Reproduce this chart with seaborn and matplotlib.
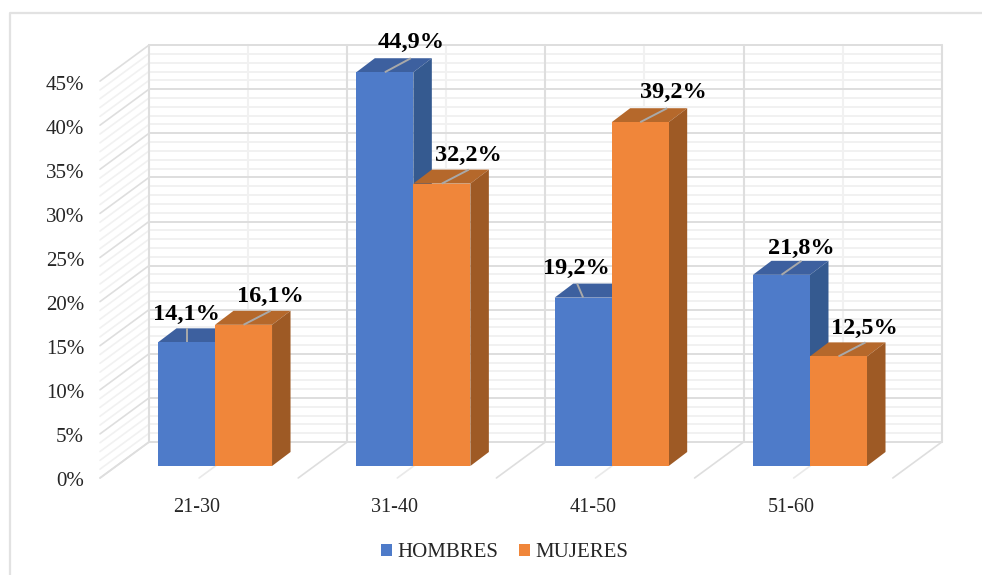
import matplotlib
matplotlib.use('Agg')
import matplotlib.pyplot as plt
from matplotlib.lines import Line2D
from matplotlib.patches import Polygon
import pandas as pd
import seaborn as sns

# Values
grupos = ['21-30', '31-40', '41-50', '51-60']
hombres = [14.1, 44.9, 19.2, 21.8]
mujeres = [16.1, 32.2, 39.2, 12.5]

W, H = 982, 575
sns.set_theme(style='white')
plt.rcParams['font.family'] = ['Liberation Serif', 'DejaVu Serif']

BLUE, ORANGE = '#4E7BC9', '#F0863A'
BLUE_TOP, BLUE_SIDE = '#3D609F', '#355A90'
ORANGE_TOP, ORANGE_SIDE = '#B5682B', '#9E5A25'
MAJOR, MINOR = '#DEDEDE', '#F1F1F1'
TXT = '#262626'

# label offsets from the top centre of each bar, in pixels
off_h = [(0, -28), (26, -30), (-7, -29), (20, -26)]
off_m = [(27, -28), (27, -28), (33, -30), (26, -28)]
lead_h = [0, 26, -6, 20]   # horizontal run of the grey leader lines


def axes_px(x0, x1, y_top, y_bottom):
    return [x0 / W, 1 - y_bottom / H, (x1 - x0) / W, (y_bottom - y_top) / H]


fig = plt.figure(figsize=(W / 100, H / 100), dpi=100, facecolor='white')

# outer frame, only left and top show in the picture
fig.add_artist(Line2D([9.5 / W, 9.5 / W, 1], [0, 1 - 12.5 / H, 1 - 12.5 / H],
                      color='#E2E2E2', lw=1.6))

# walls and floor in pixel coordinates
bg = fig.add_axes([0, 0, 1, 1], zorder=0)
bg.set_xlim(0, W)
bg.set_ylim(H, 0)
bg.axis('off')


def back_y(v):
    return 442 - 8.82 * v


def front_y(v):
    return 478 - 8.82 * v


for v in range(46):
    major = v % 5 == 0
    c = MAJOR if major else MINOR
    z = 2 if major else 1
    bg.plot([149, 942], [back_y(v), back_y(v)], color=c, lw=1.4, zorder=z)
    bg.plot([100, 149], [front_y(v), back_y(v)], color=c, lw=1.2, zorder=z)

for i in range(9):
    xb = 149 + i * 99.1
    xf = 100 + i * 99.1
    major = i % 2 == 0
    c = MAJOR if major else MINOR
    bg.plot([xb, xb], [back_y(45), back_y(0)], color=c, lw=1.5, zorder=2 if major else 1)
    bg.plot([xf, xb], [478, 442], color=c if major else '#E9E9E9', lw=1.2, zorder=2)

# front plane carries the tick labels, set a little below the floor edge
front = fig.add_axes(axes_px(97, 890, front_y(45) + 1.5, 479.5), zorder=1)
front.patch.set_alpha(0)
front.set_xlim(-0.5, 3.5)
front.set_ylim(0, 45)
front.set_xticks(range(len(grupos)))
front.set_xticklabels(grupos)
front.set_yticks(range(0, 50, 5))
front.set_yticklabels([f'{v}%' for v in range(0, 50, 5)])
front.tick_params(axis='y', length=0, pad=9.3, labelsize=15, labelcolor=TXT)
front.tick_params(axis='x', length=0, pad=13.3, labelsize=14.5, labelcolor=TXT)
sns.despine(ax=front, left=True, bottom=True)

# bars
Y_SCALE = 8.77
X_SCALE = 198.3
Y_TOP = 30
ax = fig.add_axes(axes_px(215 - X_SCALE / 2, 810 + X_SCALE / 2, Y_TOP, 466), zorder=2)
ax.patch.set_alpha(0)

df = pd.DataFrame({'grupo': grupos * 2,
                   'valor': hombres + mujeres,
                   'sexo': ['HOMBRES'] * 4 + ['MUJERES'] * 4})
sns.barplot(data=df, x='grupo', y='valor', hue='sexo', ax=ax, width=0.575,
            palette=[BLUE, ORANGE], saturation=1, gap=0, linewidth=0,
            legend=True)
ax.set_xlim(-0.5, 3.5)
ax.set_ylim(0, (466 - Y_TOP) / Y_SCALE)
ax.axis('off')

dx = 18.5 / X_SCALE
dy = 14 / Y_SCALE
faces = [(BLUE_TOP, BLUE_SIDE, 1.0, 1.5), (ORANGE_TOP, ORANGE_SIDE, 2.0, 2.5)]
offs = [off_h, off_m]

for k, cont in enumerate(ax.containers):
    top_c, side_c, z, zf = faces[k]
    for j, p in enumerate(cont.patches):
        x0, x1, h = p.get_x(), p.get_x() + p.get_width(), p.get_height()
        p.set_zorder(zf)
        ax.add_patch(Polygon([(x0, h), (x1, h), (x1 + dx, h + dy), (x0 + dx, h + dy)],
                             facecolor=top_c, edgecolor='none', zorder=z, clip_on=False))
        ax.add_patch(Polygon([(x1, 0), (x1 + dx, dy), (x1 + dx, h + dy), (x1, h)],
                             facecolor=side_c, edgecolor='none', zorder=z, clip_on=False))
        xc = (x0 + x1) / 2
        run = lead_h[j] if k == 0 else 27
        ax.plot([xc, xc + run / X_SCALE], [h, h + dy], color='#A9A9A9', lw=1.4,
                zorder=3, clip_on=False, solid_capstyle='butt')
        ox, oy = offs[k][j]
        ax.annotate(f'{h:.1f}%'.replace('.', ','), (xc, h), xytext=(ox * 0.72, -oy * 0.72),
                    textcoords='offset points', ha='center', va='center',
                    fontsize=17.5, fontweight='bold', color='black', zorder=4,
                    annotation_clip=False)

# legend
handles, labels = ax.get_legend_handles_labels()
ax.get_legend().remove()
fig.legend(handles, labels, loc='center', bbox_to_anchor=(505 / W, 1 - 552.5 / H),
           ncol=2, frameon=False, fontsize=15, labelcolor=TXT, handlelength=0.5,
           handleheight=0.5, handletextpad=0.28, columnspacing=1.0, borderpad=0)

fig.savefig('out.png', dpi=100)
